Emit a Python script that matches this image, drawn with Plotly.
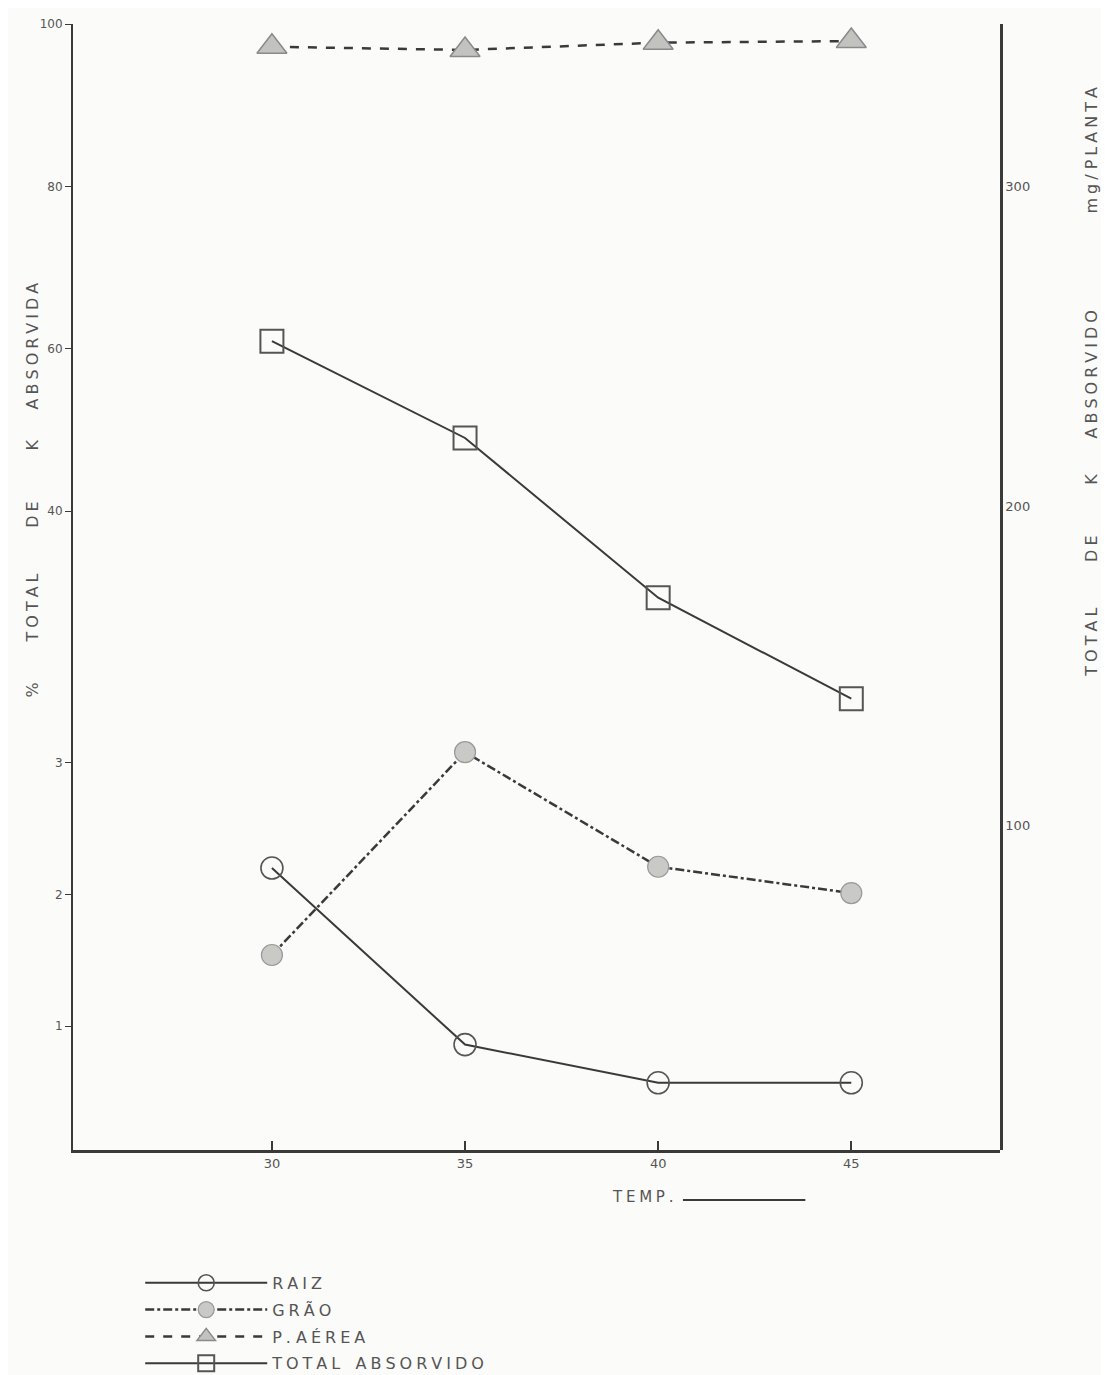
import plotly.graph_objects as go

# ---- data ----
temp = [30, 35, 40, 45]
raiz = [2.20, 0.86, 0.57, 0.57]          # % (lower left scale)
grao = [1.54, 3.08, 2.21, 2.01]          # % (lower left scale)
p_aerea = [97.2, 96.8, 97.7, 97.9]       # % (upper left scale)
total_abs = [251.6, 221.3, 171.3, 139.7] # mg/planta (right scale)

x_ticks = [30, 35, 40, 45]
x_ticktext = ["30", "35", "40", "45"]
low_ticks = [1, 2, 3]
up_ticks = [40, 60, 80, 100]
up_ticktext = ["40", "60", "80", "100"]
right_ticks = [100, 200, 300]

INK = "#3a3a3a"
TXT = "#555555"
FONT = "DejaVu Sans"
BG = "#fbfbf9"

SP = "\u2005"   # letter spacing (stencil lettering look)
NB = "\u00a0"


def spaced(word):
    return SP.join(list(word))


fig = go.Figure()

fig.add_trace(go.Scatter(
    x=temp, y=raiz, name=spaced("RAIZ"), xaxis="x", yaxis="y",
    legendgroup="a", mode="lines+markers",
    line=dict(color=INK, width=2),
    marker=dict(symbol="circle", size=22, color="rgba(0,0,0,0)",
                line=dict(color="#555", width=1.6)),
))
fig.add_trace(go.Scatter(
    x=temp, y=grao, name=spaced("GRÃO"), xaxis="x", yaxis="y",
    legendgroup="b", mode="lines+markers",
    line=dict(color=INK, width=2.5, dash="dashdot"),
    marker=dict(symbol="circle", size=21, color="#c9c9c6",
                line=dict(color="#999", width=1.2)),
))
fig.add_trace(go.Scatter(
    x=temp, y=p_aerea, name=spaced("P.") + NB + spaced("AÉREA"), xaxis="x", yaxis="y2",
    legendgroup="c", mode="lines+markers",
    line=dict(color=INK, width=2.5, dash="dash"),
    marker=dict(symbol="triangle-up", size=26, color="#c2c2bf",
                line=dict(color="#8a8a8a", width=1.5)),
))
fig.add_trace(go.Scatter(
    x=temp, y=total_abs, name=spaced("TOTAL") + NB * 3 + spaced("ABSORVIDO"),
    xaxis="x", yaxis="y3",
    legendgroup="d", mode="lines+markers",
    line=dict(color=INK, width=2),
    marker=dict(symbol="square", size=23, color="rgba(0,0,0,0)",
                line=dict(color="#555", width=2)),
))

brk = 0.4521
fig.update_layout(
    width=1101, height=1367,
    margin=dict(l=65, r=109, t=9, b=225),
    paper_bgcolor=BG, plot_bgcolor="rgba(0,0,0,0)",
    font=dict(family=FONT, color=TXT, size=12),
    showlegend=True,
    legend=dict(x=0.0725, xref="paper", y=0.0798, yref="container",
                xanchor="left", yanchor="top",
                bgcolor="rgba(0,0,0,0)", itemwidth=122, tracegroupgap=3,
                font=dict(family=FONT, size=16, color=TXT)),
    xaxis=dict(domain=[0, 1], anchor="y", range=[24.85, 48.85],
               tickvals=x_ticks, ticktext=x_ticktext,
               ticks="inside", ticklen=9, tickwidth=1.5, tickcolor=INK,
               showline=True, linecolor=INK, linewidth=2.5,
               showgrid=False, zeroline=False,
               tickfont=dict(size=13, color=TXT)),
    yaxis=dict(domain=[0, brk], anchor="x", range=[0.06, 3.924],
               tickvals=low_ticks, ticks="outside", ticklen=6, tickcolor=INK,
               showline=True, linecolor=INK, linewidth=2,
               showgrid=False, zeroline=False,
               tickfont=dict(size=12, color=TXT)),
    yaxis2=dict(domain=[brk, 1], anchor="x", range=[24.0, 100.0],
                tickvals=up_ticks, ticktext=up_ticktext,
                ticks="outside", ticklen=6, tickcolor=INK,
                showline=True, linecolor=INK, linewidth=2,
                showgrid=False, zeroline=False,
                tickfont=dict(size=12, color=TXT)),
    yaxis3=dict(domain=[0, 1], anchor="x", side="right", range=[-1.6, 350.9],
                tickvals=right_ticks, ticks="",
                showline=True, linecolor=INK, linewidth=2.5,
                showgrid=False, zeroline=False,
                tickfont=dict(size=13, color=TXT)),
)

left_title = ("%" + NB * 8 + spaced("TOTAL") + NB * 9 + spaced("DE") + NB * 10
              + "K" + NB * 6 + spaced("ABSORVIDA"))
right_title = (spaced("TOTAL") + NB * 9 + spaced("DE") + NB * 10 + "K" + NB * 7
               + spaced("ABSORVIDO") + NB * 19 + spaced("mg/") + NB + spaced("PLANTA"))

fig.add_annotation(text=left_title, xref="paper", yref="paper",
                   x=-0.044, y=0.586, xanchor="center", yanchor="middle",
                   textangle=-90, showarrow=False,
                   font=dict(family=FONT, size=16, color=TXT))
fig.add_annotation(text=right_title, xref="paper", yref="paper",
                   x=1.0985, y=0.6826, xanchor="center", yanchor="middle",
                   textangle=-90, showarrow=False,
                   font=dict(family=FONT, size=16, color=TXT))
fig.add_annotation(text=spaced("TEMP."), xref="paper", yref="paper",
                   x=0.579, y=-0.0417, xanchor="left", yanchor="middle",
                   showarrow=False, font=dict(family=FONT, size=15, color=TXT))
fig.add_shape(type="line", xref="paper", yref="paper",
              x0=0.658, x1=0.790, y0=-0.0445, y1=-0.0445,
              line=dict(color=INK, width=2))

fig.write_html("out.html")
